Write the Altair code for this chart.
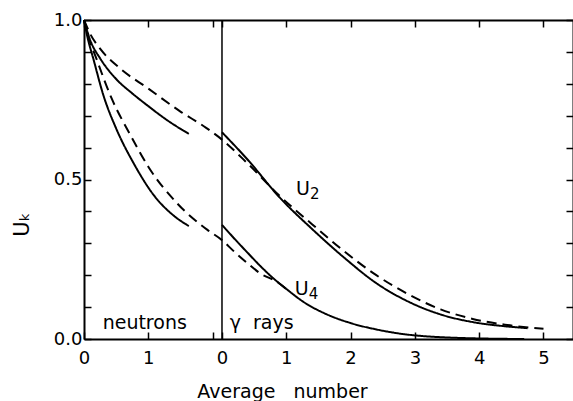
import altair as alt
import pandas as pd

# Shared x axis: neutron scale on the left, gamma-ray scale starts at GAMMA_ORIGIN
GAMMA_ORIGIN = 2.146
X_MAX = 7.605

# ---- neutrons (x = average number of neutrons) ----
n_u2_solid_x = [0.0, 0.1, 0.25, 0.5, 0.75, 1.0, 1.3, 1.63]
n_u2_solid_y = [1.0, 0.935, 0.88, 0.815, 0.77, 0.73, 0.685, 0.643]
n_u2_dash_x = [0.0, 0.1, 0.25, 0.55, 1.0, 1.5, 1.9]
n_u2_dash_y = [1.0, 0.955, 0.91, 0.85, 0.785, 0.713, 0.662]
n_u4_solid_x = [0.0, 0.05, 0.15, 0.3, 0.5, 0.78, 1.1, 1.4, 1.63]
n_u4_solid_y = [1.0, 0.95, 0.875, 0.765, 0.66, 0.548, 0.447, 0.386, 0.354]
n_u4_dash_x = [0.0, 0.05, 0.2, 0.43, 0.72, 1.0, 1.45, 1.92]
n_u4_dash_y = [1.0, 0.96, 0.875, 0.754, 0.64, 0.54, 0.425, 0.342]

# ---- gamma rays (x = average number of gamma rays) ----
g_u2_solid_x = [0.0, 0.4, 0.9, 1.4, 1.9, 2.4, 2.9, 3.4, 3.9, 4.4, 4.75]
g_u2_solid_y = [0.648, 0.562, 0.443, 0.345, 0.255, 0.175, 0.117, 0.077, 0.053, 0.040, 0.034]
g_u2_dash_x = [0.0, 0.4, 0.9, 1.4, 1.9, 2.4, 2.9, 3.4, 3.9, 4.4, 5.0]
g_u2_dash_y = [0.625, 0.55, 0.448, 0.36, 0.275, 0.2, 0.14, 0.093, 0.063, 0.045, 0.032]
g_u4_solid_x = [0.0, 0.2, 0.4, 0.6, 0.8, 1.0, 1.3, 1.6, 2.0, 2.4, 2.8, 3.2, 3.6, 4.2, 4.7]
g_u4_solid_y = [0.358, 0.313, 0.27, 0.228, 0.19, 0.157, 0.112, 0.08, 0.05, 0.03, 0.016, 0.008, 0.004, 0.001, 0.0]
g_u4_dash_x = [0.0, 0.2, 0.4, 0.6, 0.85, 1.0]
g_u4_dash_y = [0.31, 0.272, 0.237, 0.205, 0.18, 0.157]

# divider between the two panels (gamma origin)
divider_x = [0.0]

# annotations
label_text = ["U", "U", "neutrons", "\u03b3\u00a0\u00a0rays"]
label_sub = ["2", "4", "", ""]
label_panel = ["gamma", "gamma", "neutron", "gamma"]
label_x = [1.15, 1.13, 0.29, 0.12]
label_y = [0.452, 0.138, 0.03, 0.03]

x_ticks = [0, 1, 2, GAMMA_ORIGIN, GAMMA_ORIGIN + 1, GAMMA_ORIGIN + 2,
           GAMMA_ORIGIN + 3, GAMMA_ORIGIN + 4, GAMMA_ORIGIN + 5]
y_ticks = [0.0, 0.1, 0.2, 0.3, 0.4, 0.5, 0.6, 0.7, 0.8, 0.9, 1.0]

rows = []
def add(series, style, parts):
    k = 0
    for panel, xs, ys in parts:
        for x, y in zip(xs, ys):
            rows.append({"series": series, "style": style, "panel": panel,
                         "x": x, "y": y, "order": k})
            k += 1

add("U2 neutron", "solid", [("neutron", n_u2_solid_x, n_u2_solid_y)])
add("U4 neutron", "solid", [("neutron", n_u4_solid_x, n_u4_solid_y)])
add("U2 dashed", "dashed", [("neutron", n_u2_dash_x, n_u2_dash_y),
                            ("gamma", g_u2_dash_x, g_u2_dash_y)])
add("U4 dashed", "dashed", [("neutron", n_u4_dash_x, n_u4_dash_y),
                            ("gamma", g_u4_dash_x, g_u4_dash_y)])
add("U2 gamma", "solid", [("gamma", g_u2_solid_x, g_u2_solid_y)])
add("U4 gamma", "solid", [("gamma", g_u4_solid_x, g_u4_solid_y)])
df = pd.DataFrame(rows)

calc = f"datum.panel == 'gamma' ? datum.x + {GAMMA_ORIGIN} : datum.x"
FONT = "DejaVu Sans"

xscale = alt.Scale(domain=[0, X_MAX], nice=False, zero=False)
yscale = alt.Scale(domain=[0, 1], nice=False, zero=False)

common_axis = dict(domainColor="black", domainWidth=2, tickColor="black",
                   tickWidth=1.5, tickSize={"expr": "-7"}, grid=False,
                   labelFont=FONT, labelFontSize=18, labelColor="black",
                   labelFlush=False, titleFont=FONT, titleColor="black",
                   titleFontWeight="normal")

x_label_expr = (f"datum.value > 2.1 ? format(round(datum.value - {GAMMA_ORIGIN}), 'd') : "
                "(datum.value > 1.5 ? '' : format(datum.value, 'd'))")
y_label_expr = ("(abs(datum.value) < 0.001 || abs(datum.value - 0.5) < 0.001 || "
                "abs(datum.value - 1) < 0.001) ? format(datum.value, '.1f') : ''")

lines = alt.Chart(df).transform_calculate(xc=calc).mark_line(
    interpolate="monotone", color="black", strokeWidth=2
).encode(
    x=alt.X("xc:Q", scale=xscale,
            axis=alt.Axis(values=x_ticks, labelExpr=x_label_expr, labelPadding=17,
                          title="Average\u00a0\u00a0\u00a0number", titleFontSize=19,
                          titleX=198, titleY=58, titleBaseline="alphabetic",
                          **common_axis)),
    y=alt.Y("y:Q", scale=yscale,
            axis=alt.Axis(values=y_ticks, labelExpr=y_label_expr, labelPadding=9,
                          title="U\u2096", titleFontSize=21, titleX=-52, titleY=204,
                          **common_axis)),
    detail="series:N",
    order="order:Q",
    strokeDash=alt.StrokeDash("style:N", legend=None,
                              scale=alt.Scale(domain=["solid", "dashed"],
                                              range=[[1, 0], [10, 6]])),
)

divider = alt.Chart(pd.DataFrame({"x": divider_x, "panel": ["gamma"]})).transform_calculate(
    xc=calc
).mark_rule(color="black", strokeWidth=1.5).encode(
    x=alt.X("xc:Q", scale=xscale,
            axis=alt.Axis(orient="top", values=x_ticks, labels=False, title=None,
                          **common_axis)),
    y=alt.datum(0, scale=yscale,
                axis=alt.Axis(orient="right", values=y_ticks, labels=False, title=None,
                              **common_axis)),
    y2=alt.datum(1),
)

labels_df = pd.DataFrame({"text": label_text, "sub": label_sub, "panel": label_panel,
                          "x": label_x, "y": label_y})
texts = alt.Chart(labels_df).transform_calculate(xc=calc).mark_text(
    align="left", baseline="alphabetic", font=FONT, fontSize=19, color="black"
).encode(
    x=alt.X("xc:Q", scale=xscale, axis=None),
    y=alt.Y("y:Q", scale=yscale, axis=None),
    text="text:N",
)
subs = alt.Chart(labels_df).transform_calculate(xc=calc).mark_text(
    align="left", baseline="alphabetic", font=FONT, fontSize=15, color="black",
    dx=14, dy=4
).encode(
    x=alt.X("xc:Q", scale=xscale, axis=None),
    y=alt.Y("y:Q", scale=yscale, axis=None),
    text="sub:N",
)

chart = alt.layer(lines, divider, texts, subs).resolve_axis(
    x="independent", y="independent"
).properties(
    width=489, height=319, autosize="none",
    padding={"left": 84, "top": 20, "right": 0, "bottom": 62},
).configure_view(stroke=None).configure(background="white")

chart.save("out.html", embed_options={"renderer": "svg", "actions": False})
